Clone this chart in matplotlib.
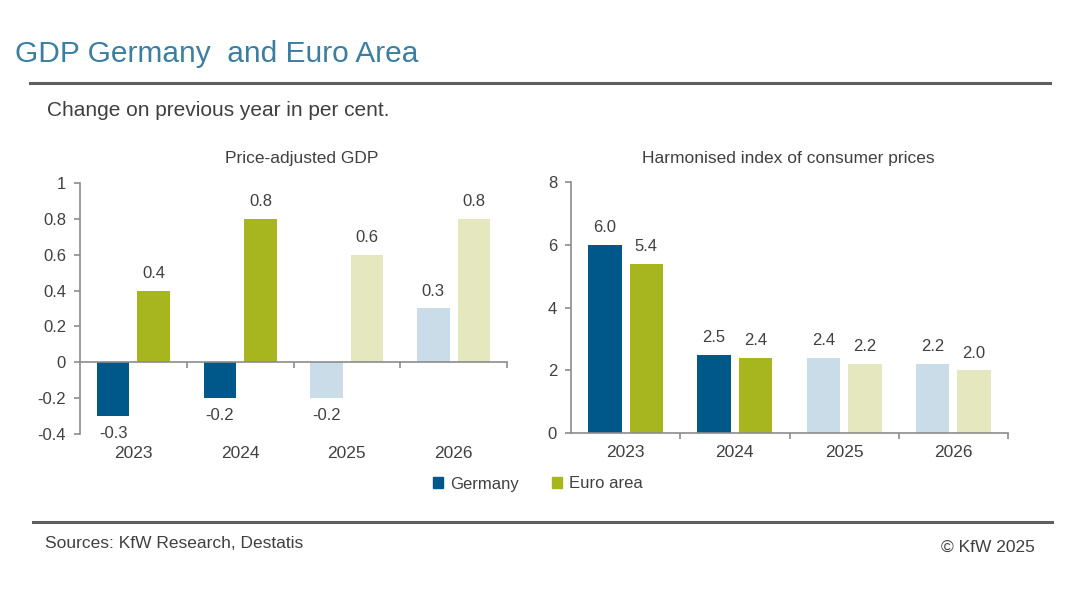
import matplotlib
matplotlib.use("Agg")
import matplotlib.pyplot as plt
from matplotlib.patches import Patch
import numpy as np

# chart data
years = ["2023", "2024", "2025", "2026"]
forecast = [False, False, True, True]
gdp_germany = [-0.3, -0.2, -0.2, 0.3]
gdp_euro = [0.4, 0.8, 0.6, 0.8]
hicp_germany = [6.0, 2.5, 2.4, 2.2]
hicp_euro = [5.4, 2.4, 2.2, 2.0]

DE = "#00578a"
DE_LIGHT = "#c9dce7"
EA = "#a7b51f"
EA_LIGHT = "#e5e8bf"
TXT = "#404040"
AXC = "#8c8c8c"

plt.rcParams["font.family"] = ["Liberation Sans", "DejaVu Sans"]
plt.rcParams["axes.unicode_minus"] = False

W, H = 1080, 608
fig = plt.figure(figsize=(W / 100, H / 100), dpi=100)


def px_axes(x0, y0, x1, y1):
    # pixel box (top-left origin) -> figure fraction axes
    return fig.add_axes([x0 / W, 1 - y1 / H, (x1 - x0) / W, (y1 - y0) / H])


def draw_panel(ax, de, ea, ylim, yticks, title, title_x):
    x = np.arange(len(years))
    de_cols = [DE_LIGHT if f else DE for f in forecast]
    ea_cols = [EA_LIGHT if f else EA for f in forecast]
    bw = 0.305
    off = 0.19
    ax.bar(x - off, de, bw, color=de_cols)
    ax.bar(x + off, ea, bw, color=ea_cols)
    for xs, vals in ((x - off, de), (x + off, ea)):
        for xi, v in zip(xs, vals):
            dy = 7 if v >= 0 else -7
            ax.annotate(f"{v:.1f}", (xi, v), xytext=(0, dy), textcoords="offset points",
                        ha="center", va="bottom" if v >= 0 else "top",
                        fontsize=12, color=TXT)
    ax.set_xlim(-0.5, len(years) - 0.5)
    ax.set_ylim(*ylim)
    ax.set_yticks(yticks)
    ax.set_yticklabels([f"{t:g}" for t in yticks])
    ax.set_xticks(np.arange(len(years)) + 0.5)
    ax.set_xticklabels([])
    ax.spines["bottom"].set_position(("data", 0))
    for s in ("top", "right"):
        ax.spines[s].set_visible(False)
    for s in ("left", "bottom"):
        ax.spines[s].set_color(AXC)
        ax.spines[s].set_linewidth(1.2)
    ax.tick_params(axis="both", direction="out", length=4, color=AXC, width=1.2,
                   labelsize=12, labelcolor=TXT)
    ax.tick_params(axis="y", pad=6)
    for xi, yr in enumerate(years):
        ax.text(xi, -0.077, yr, transform=ax.get_xaxis_transform(),
                ha="center", va="center", fontsize=12.5, color=TXT)
    fig.text(title_x / W, 1 - 159 / H, title, ha="center", va="center",
             fontsize=12.5, color=TXT)


ax1 = px_axes(80, 183, 507, 434)
draw_panel(ax1, gdp_germany, gdp_euro, (-0.4, 1.0),
           [-0.4, -0.2, 0, 0.2, 0.4, 0.6, 0.8, 1.0], "Price-adjusted GDP", 302)

ax2 = px_axes(571, 182, 1008, 433)
draw_panel(ax2, hicp_germany, hicp_euro, (0, 8), [0, 2, 4, 6, 8],
           "Harmonised index of consumer prices", 788)

# header and footer
fig.text(15 / W, 1 - 54 / H, "GDP Germany  and Euro Area", fontsize=21.5,
         color="#3b7ea1", va="center", ha="left")
fig.add_artist(plt.Line2D([30 / W, 1050 / W], [1 - 83 / H] * 2, color="#5f5f5f", lw=2.2))
fig.text(47 / W, 1 - 111 / H, "Change on previous year in per cent.", fontsize=15,
         color=TXT, va="center", ha="left")
fig.add_artist(plt.Line2D([33 / W, 1052 / W], [1 - 522 / H] * 2, color="#5f5f5f", lw=2.2))
fig.text(45 / W, 1 - 543 / H, "Sources: KfW Research, Destatis", fontsize=12.5,
         color=TXT, va="center", ha="left")
fig.text(1035 / W, 1 - 547 / H, "© KfW 2025", fontsize=12.5,
         color=TXT, va="center", ha="right")

handles = [Patch(color=DE, label="Germany"), Patch(color=EA, label="Euro area")]
fig.legend(handles=handles, loc="center", bbox_to_anchor=(538 / W, 1 - 484 / H), ncol=2,
           frameon=False, fontsize=12, handlelength=0.6, handleheight=0.6,
           handletextpad=0.4, columnspacing=2.0, labelcolor=TXT)

fig.savefig("out.png", dpi=100, facecolor="white")
